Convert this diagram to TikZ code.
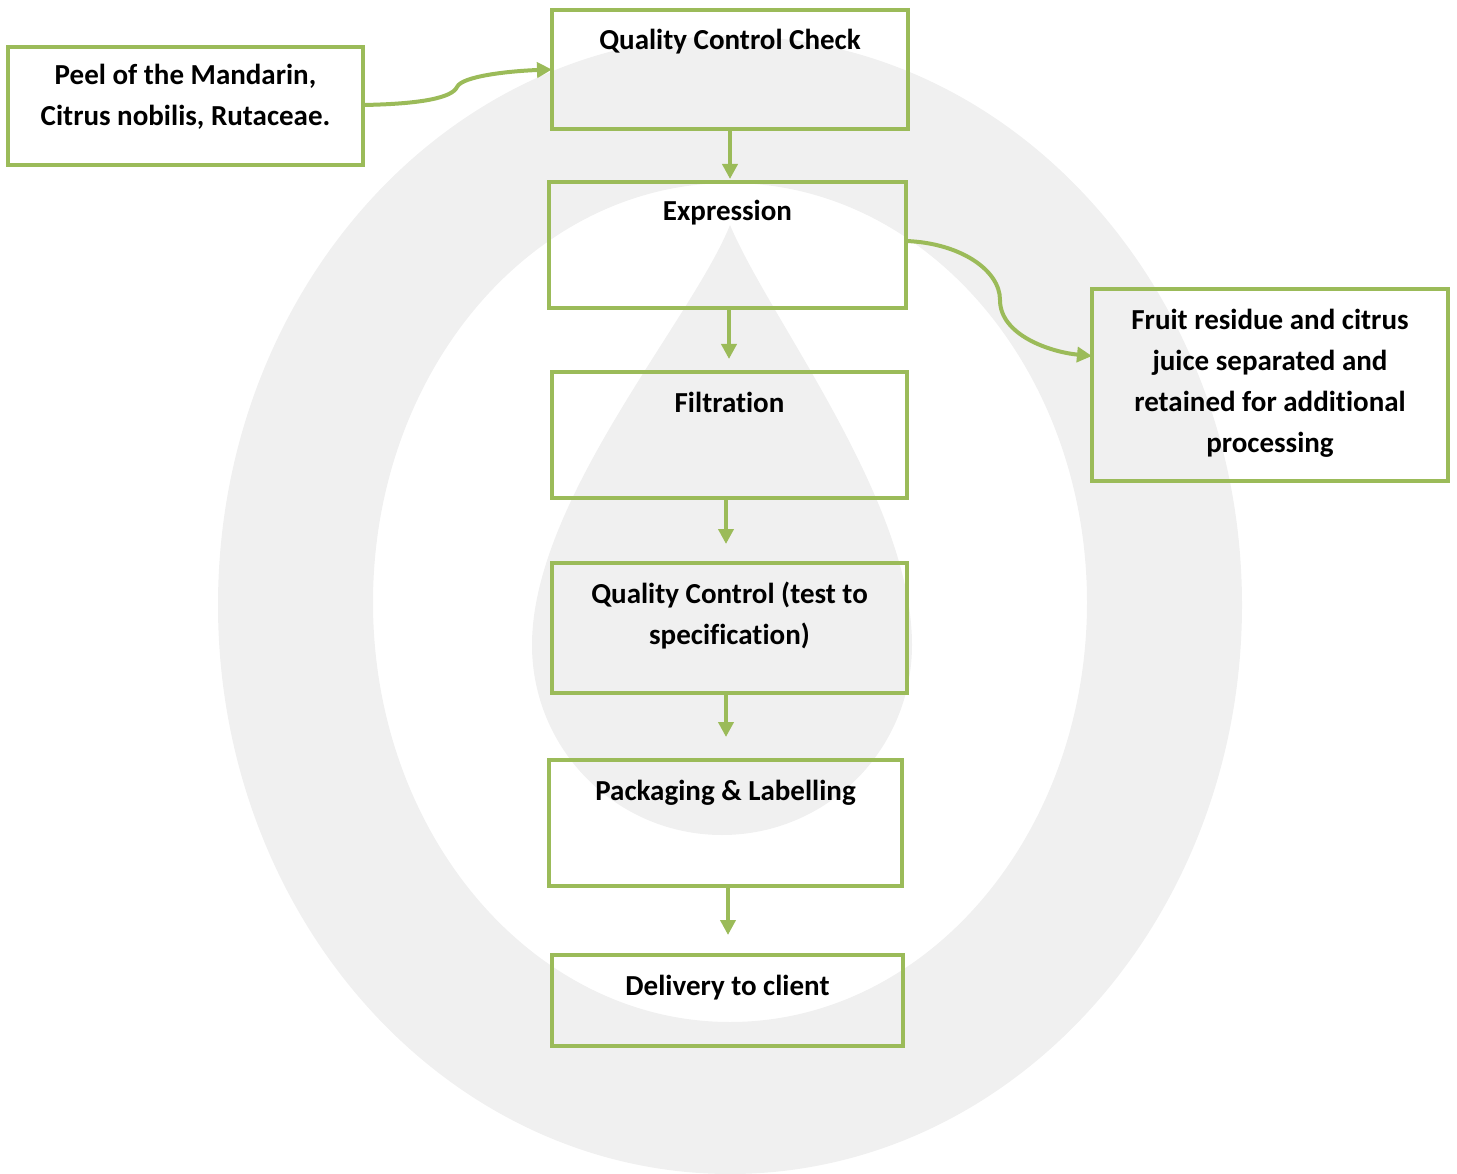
\documentclass[tikz,border=0pt]{standalone}
\usepackage{fontspec}
\setmainfont{Carlito}[Ligatures=NoCommon]
\usetikzlibrary{arrows.meta}
\definecolor{grn}{HTML}{9BBB59}
\definecolor{bgg}{HTML}{F0F0F0}
\begin{document}
\begin{tikzpicture}[x=1pt,y=-1pt,
  box/.style={draw=grn, line width=4pt, rectangle, inner sep=0pt, outer sep=0pt, anchor=north west},
  lab/.style={font=\bfseries\fontsize{29pt}{41pt}\selectfont, align=center, anchor=base, inner sep=0pt},
  arr/.style={draw=grn, line width=4pt, -{Triangle[width=15pt,length=15pt]}}]
\useasboundingbox (0,0) rectangle (1457,1174);
% background ring and drop
\fill[bgg, even odd rule] (730,605) ellipse [x radius=512, y radius=569]
  (730,602.5) ellipse [x radius=357, y radius=419.5];
\fill[bgg] (730,225) .. controls (692,320) and (532,500) .. (532,645)
  arc[start angle=180, end angle=360, radius=190pt]
  .. controls (912,500) and (770,320) .. (730,225) -- cycle;
% boxes
\node[box, minimum width=355pt, minimum height=118pt] (b1) at (8,47) {};
\node[box, minimum width=356pt, minimum height=119pt] (b2) at (552,10) {};
\node[box, minimum width=357pt, minimum height=126pt] (b3) at (549,182) {};
\node[box, minimum width=355pt, minimum height=126pt] (b4) at (552,372) {};
\node[box, minimum width=355pt, minimum height=130pt] (b5) at (552,563) {};
\node[box, minimum width=353pt, minimum height=126pt] (b6) at (549,760) {};
\node[box, minimum width=351pt, minimum height=91pt] (b7) at (552,955) {};
\node[box, minimum width=356pt, minimum height=192pt] (b8) at (1092,289) {};
% texts (base anchor = baseline of the last line)
\node[lab] (t1) at ([yshift=-79pt]b1.north) {Peel of the Mandarin,\\Citrus nobilis, Rutaceae.};
\node[lab] (t2) at ([yshift=-40pt]b2.north) {Quality Control Check};
\node[lab] (t3) at ([yshift=-39pt]b3.north) {Expression};
\node[lab] (t4) at ([yshift=-40pt]b4.north) {Filtration};
\node[lab] (t5) at ([yshift=-81pt]b5.north) {Quality Control (test to\\specification)};
\node[lab] (t6) at ([yshift=-40pt]b6.north) {Packaging \& Labelling};
\node[lab] (t7) at ([yshift=-40pt]b7.north) {Delivery to client};
\node[lab] (t8) at ([yshift=-163pt]b8.north) {Fruit residue and citrus\\juice separated and\\retained for additional\\processing};
% straight arrows
\draw[arr, shorten >=3pt] (b2.south) -- (b2.south |- b3.north);
\draw[arr, shorten >=13pt] ([xshift=1.5pt]b3.south) -- ([xshift=1.5pt]b3.south |- b4.north);
\draw[arr, shorten >=19pt] ([xshift=-3.5pt]b4.south) -- ([xshift=-3.5pt]b4.south |- b5.north);
\draw[arr, shorten >=23pt] ([xshift=-3.5pt]b5.south) -- ([xshift=-3.5pt]b5.south |- b6.north);
\draw[arr, shorten >=20pt] ([xshift=2.5pt]b6.south) -- ([xshift=2.5pt]b6.south |- b7.north);
% curved connectors
\draw[arr] ([yshift=1pt]b1.east) .. controls (420,104) and (452,98) .. (457,87)
  .. controls (462,76) and (510,71) .. (b2.west);
\draw[arr] ([yshift=4pt]b3.east) .. controls (960,243) and (1000,270) .. (1000,300)
  .. controls (1000,335) and (1050,352) .. ([yshift=29pt]b8.west);
\end{tikzpicture}
\end{document}
